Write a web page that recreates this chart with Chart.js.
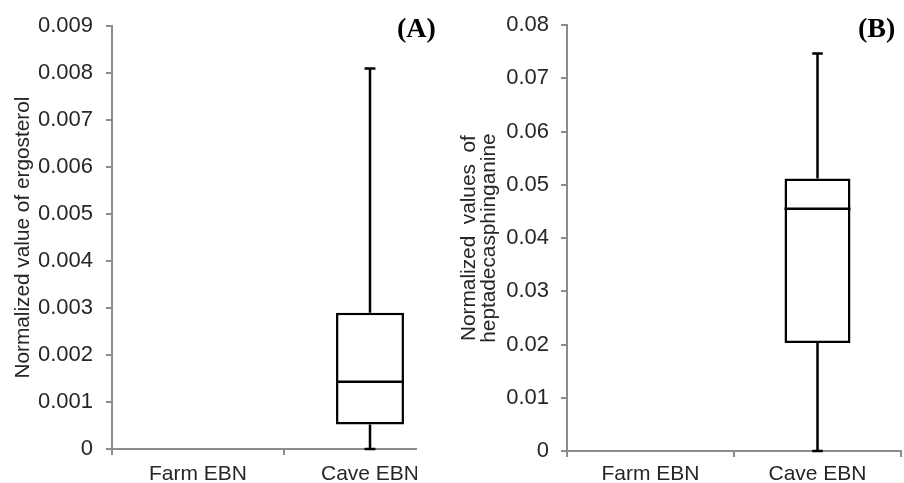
<!DOCTYPE html>
<html>
<head>
<meta charset="utf-8">
<script src="https://cdn.jsdelivr.net/npm/chart.js@4.4.1/dist/chart.umd.min.js"></script>
<style>
  body { margin: 0; background: #fff; width: 904px; height: 483px; position: relative; overflow: hidden; }
  #wrapA { position: absolute; left: 0; top: 0; width: 417px; height: 483px; overflow: hidden; }
  #wrapB { position: absolute; left: 452px; top: 0; width: 452px; height: 483px; }
  .panel { position: absolute; top: 12px; font-family: "Liberation Serif", serif; font-weight: bold; font-size: 28px; color: #000; }
</style>
</head>
<body>
<div id="wrapA"><canvas id="chartA" width="470" height="483"></canvas></div>
<div id="wrapB"><canvas id="chartB" width="452" height="483"></canvas></div>
<div class="panel" style="left:397px">(A)</div>
<div class="panel" style="left:858px">(B)</div>
<script>
// categories
var categories = ["Farm EBN", "Cave EBN"];

// box stats for ergosterol (A), farm has nothing
var ergoMin = [null, 0];
var ergoQ1 = [null, 0.00052];
var ergoMedian = [null, 0.00143];
var ergoQ3 = [null, 0.0029];
var ergoMax = [null, 0.0081];

// box stats for heptadecasphinganine (B)
var heptaMin = [null, 0];
var heptaQ1 = [null, 0.0203];
var heptaMedian = [null, 0.0455];
var heptaQ3 = [null, 0.0512];
var heptaMax = [null, 0.0747];

var yTicksA = ["0", "0.001", "0.002", "0.003", "0.004", "0.005", "0.006", "0.007", "0.008", "0.009"];
var yTicksB = ["0", "0.01", "0.02", "0.03", "0.04", "0.05", "0.06", "0.07", "0.08"];

var axisGrey = "#8c8c8c";
var textCol = "#262626";

// whiskers + median drawn on top of the floating bars
var whiskerPlugin = {
    id: "whiskers",
    afterDatasetsDraw: function (chart) {
        var st = chart.options.plugins.whiskers;
        var xs = chart.scales.x;
        var ys = chart.scales.y;
        var meta = chart.getDatasetMeta(0);
        var ctx = chart.ctx;
        ctx.save();
        ctx.strokeStyle = "#000";
        ctx.lineWidth = 2.5;
        for (var i = 0; i < categories.length; i++) {
            if (st.median[i] == null) continue;
            var x = xs.getPixelForValue(i);
            var w = meta.data[i].width;
            var cap = w * 0.16;
            var yMin = ys.getPixelForValue(st.min[i]);
            var yQ1 = ys.getPixelForValue(st.q1[i]);
            var yMed = ys.getPixelForValue(st.median[i]);
            var yQ3 = ys.getPixelForValue(st.q3[i]);
            var yMax = ys.getPixelForValue(st.max[i]);
            ctx.beginPath();
            ctx.moveTo(x, yQ3);
            ctx.lineTo(x, yMax);
            ctx.moveTo(x - cap / 2, yMax);
            ctx.lineTo(x + cap / 2, yMax);
            ctx.moveTo(x, yQ1);
            ctx.lineTo(x, yMin);
            ctx.moveTo(x - cap / 2, yMin);
            ctx.lineTo(x + cap / 2, yMin);
            ctx.moveTo(x - w / 2, yMed);
            ctx.lineTo(x + w / 2, yMed);
            ctx.stroke();
        }
        ctx.restore();
    }
};

function makeBox(canvasId, q1, q3, stats, yMax, yStep, yTicks, title, opt) {
    var boxes = [];
    for (var i = 0; i < categories.length; i++) {
        boxes.push(q1[i] == null ? null : [q1[i], q3[i]]);
    }
    return new Chart(document.getElementById(canvasId), {
        type: "bar",
        data: {
            labels: categories,
            datasets: [{
                data: boxes,
                backgroundColor: "#fff",
                borderColor: "#000",
                borderWidth: 2.5,
                borderSkipped: false,
                barPercentage: 0.395,
                categoryPercentage: 1
            }]
        },
        options: {
            responsive: false,
            animation: false,
            layout: { padding: { top: 24, right: opt.right, left: 0, bottom: 0 } },
            plugins: {
                legend: { display: false },
                tooltip: { enabled: false },
                whiskers: stats
            },
            scales: {
                x: {
                    afterFit: function (s) { s.height = opt.xh; },
                    grid: { offset: true, drawOnChartArea: false, drawTicks: true, tickLength: 6, color: axisGrey, lineWidth: 2 },
                    border: { color: axisGrey, width: 2 },
                    ticks: { color: textCol, padding: opt.xpad, font: { family: "Liberation Sans", size: 21 } }
                },
                y: {
                    min: 0,
                    max: yMax,
                    afterFit: function (s) { s.width = opt.yw; },
                    grid: { drawOnChartArea: false, drawTicks: true, tickLength: 6, color: axisGrey, lineWidth: 2 },
                    border: { color: axisGrey, width: 2 },
                    ticks: {
                        stepSize: yStep,
                        color: textCol,
                        padding: opt.ypad,
                        font: { family: "Liberation Sans", size: 22 },
                        callback: function (v, idx) { return yTicks[idx]; }
                    },
                    title: {
                        display: true,
                        text: title,
                        color: textCol,
                        font: { family: "Liberation Sans", size: 20.8, lineHeight: opt.tlh },
                        padding: { top: opt.tpad, bottom: 0 }
                    }
                }
            }
        },
        plugins: [whiskerPlugin]
    });
}

makeBox("chartA", ergoQ1, ergoQ3,
    { min: ergoMin, q1: ergoQ1, median: ergoMedian, q3: ergoQ3, max: ergoMax },
    0.009, 0.001, yTicksA, "Normalized value of ergosterol",
    { right: 14, xh: 34, xpad: 7, yw: 112, ypad: 13, tlh: 1.2, tpad: 11 });

makeBox("chartB", heptaQ1, heptaQ3,
    { min: heptaMin, q1: heptaQ1, median: heptaMedian, q3: heptaQ3, max: heptaMax },
    0.08, 0.01, yTicksB, ["Normalized  values  of", "heptadecasphinganine"],
    { right: 3, xh: 32, xpad: 5, yw: 115, ypad: 12, tlh: "20px", tpad: 7 });
</script>
</body>
</html>
